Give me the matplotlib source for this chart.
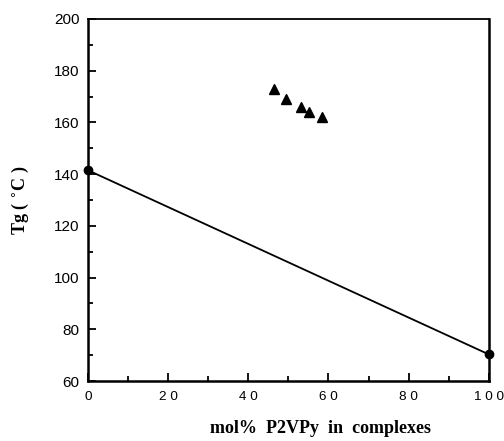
import matplotlib.pyplot as plt
from matplotlib.ticker import MultipleLocator

# end points (pure components) joined by a straight line
end_x = [0, 100]
end_tg = [141.5, 70.3]

# complexes
complex_x = [46.4, 49.5, 53.1, 55.1, 58.4]
complex_tg = [172.8, 169.0, 165.9, 164.2, 162.2]

x_ticks = [0, 20, 40, 60, 80, 100]
x_tick_labels = ['0', '2 0', '4 0', '6 0', '8 0', '1 0 0']

fig = plt.figure(figsize=(5.04, 4.41), dpi=100)
ax = fig.add_axes([0.1746, 0.136, 0.7952, 0.821])

ax.plot(end_x, end_tg, color='black', lw=1.3, marker='o', ms=6, clip_on=False, zorder=3)
ax.plot(complex_x, complex_tg, ls='none', marker='^', ms=6.5, color='black')

ax.set_xlim(0, 100)
ax.set_ylim(60, 200)
ax.set_xticks(x_ticks)
ax.set_xticklabels(x_tick_labels)
ax.xaxis.set_minor_locator(MultipleLocator(10))
ax.yaxis.set_minor_locator(MultipleLocator(10))
ax.tick_params(which='both', direction='in', top=False, right=False, width=1.3)
ax.tick_params(which='major', length=6)
ax.tick_params(which='minor', length=3.5)
ax.tick_params(axis='x', labelsize=9.7, pad=7)
ax.tick_params(axis='y', labelsize=11, pad=6)
for lab in ax.get_xticklabels() + ax.get_yticklabels():
    lab.set_family('Liberation Sans')

for side in ['left', 'bottom', 'right']:
    ax.spines[side].set_linewidth(1.8)
ax.spines['top'].set_linewidth(1.3)

ax.set_xlabel('mol%  P2VPy  in  complexes', family='Liberation Serif', fontweight='bold',
              fontsize=13)
ax.xaxis.set_label_coords(0.579, -0.13, transform=ax.transAxes)
ax.xaxis.label.set_va('center')
ax.set_ylabel('Tg ( $^{\\circ}$C )', family='Liberation Serif', fontweight='bold',
              fontsize=13, labelpad=17)

fig.savefig('out.png', dpi=100)
